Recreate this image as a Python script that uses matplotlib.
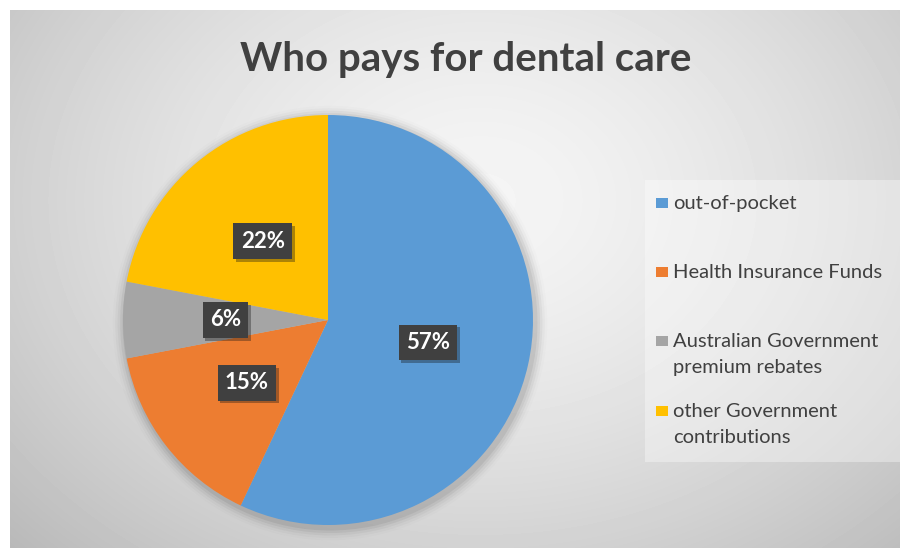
import numpy as np
import matplotlib
matplotlib.use("Agg")
import matplotlib.pyplot as plt
from matplotlib.patches import Rectangle, Circle
import matplotlib.patheffects as pe

# data
labels = ["out-of-pocket", "Health Insurance Funds",
          "Australian Government\npremium rebates",
          "other Government\ncontributions"]
shares = [57, 15, 6, 22]
colors = ["#5B9BD5", "#ED7D31", "#A5A5A5", "#FFC000"]
title = "Who pays for dental care"

W, H = 900, 548
FONT = ["Lato", "DejaVu Sans"]
fig = plt.figure(figsize=(W / 100, H / 100), dpi=100)
fig.patch.set_facecolor("white")

# radial gradient background of the chart area
bg = fig.add_axes([10 / W, 0, (W - 10) / W, (H - 10) / H])
bg.set_axis_off()
yy, xx = np.mgrid[0:538, 0:890]
cx, cy = 470, 190
r = np.sqrt(((xx - cx) / 620.0) ** 2 + ((yy - cy) / 480.0) ** 2)
shade = 0.96 - 0.22 * np.clip(r, 0, 1.2) ** 1.5
bg.imshow(shade, cmap="gray", vmin=0, vmax=1, aspect="auto",
          extent=[0, 890, 538, 0], interpolation="bilinear")
bg.set_xlim(0, 890)
bg.set_ylim(538, 0)

# pie: centre (328, 320) px, radius 205 px
R, lim = 205, 1.1
ax = fig.add_axes([(328 - R * lim) / W, (H - 320 - R * lim) / H,
                   2 * R * lim / W, 2 * R * lim / H])
ax.set_facecolor("none")
for k, a in enumerate(np.linspace(0.12, 0.02, 5)):
    ax.add_patch(Circle((0.01, -0.015), 1.0 + 0.012 * (k + 1), color="black",
                        alpha=a * 0.5, lw=0, zorder=0))
wedges, texts, autotexts = ax.pie(
    shares, colors=colors, startangle=90, counterclock=False,
    autopct="%d%%", pctdistance=0.5,
    wedgeprops=dict(linewidth=0),
    textprops=dict(color="white", fontsize=16, fontweight="bold",
                   family=FONT))
for t in autotexts:
    t.set_bbox(dict(boxstyle="square,pad=0.33", facecolor="#404040",
                    edgecolor="none"))
    t.get_bbox_patch().set_path_effects(
        [pe.SimplePatchShadow(offset=(2, -2), alpha=0.35), pe.Normal()])
ax.set_xlim(-lim, lim)
ax.set_ylim(-lim, lim)
ax.set_aspect("equal")
ax.set_axis_off()

fig.text(466 / W, 1 - 60 / H, title, ha="center", va="center",
         fontsize=29, fontweight="bold", color="#404040", family=FONT)

# legend drawn by hand, matching the spaced-out layout
fig.patches.append(Rectangle((645 / W, 1 - 462 / H), (W - 645) / W, 282 / H,
                             transform=fig.transFigure, facecolor="white",
                             alpha=0.35, edgecolor="none"))
row_tops = [203, 272, 341, 411]
for lab, col, y in zip(labels, colors, row_tops):
    fig.patches.append(Rectangle((656 / W, 1 - (y + 5) / H), 12 / W, 10 / H,
                                 transform=fig.transFigure, facecolor=col,
                                 edgecolor="none"))
    fig.text(673 / W, 1 - (y - 8) / H, lab, ha="left", va="top",
             fontsize=14.5, color="#404040", linespacing=1.62, family=FONT)

fig.savefig("out.png", dpi=100, facecolor=fig.get_facecolor())
